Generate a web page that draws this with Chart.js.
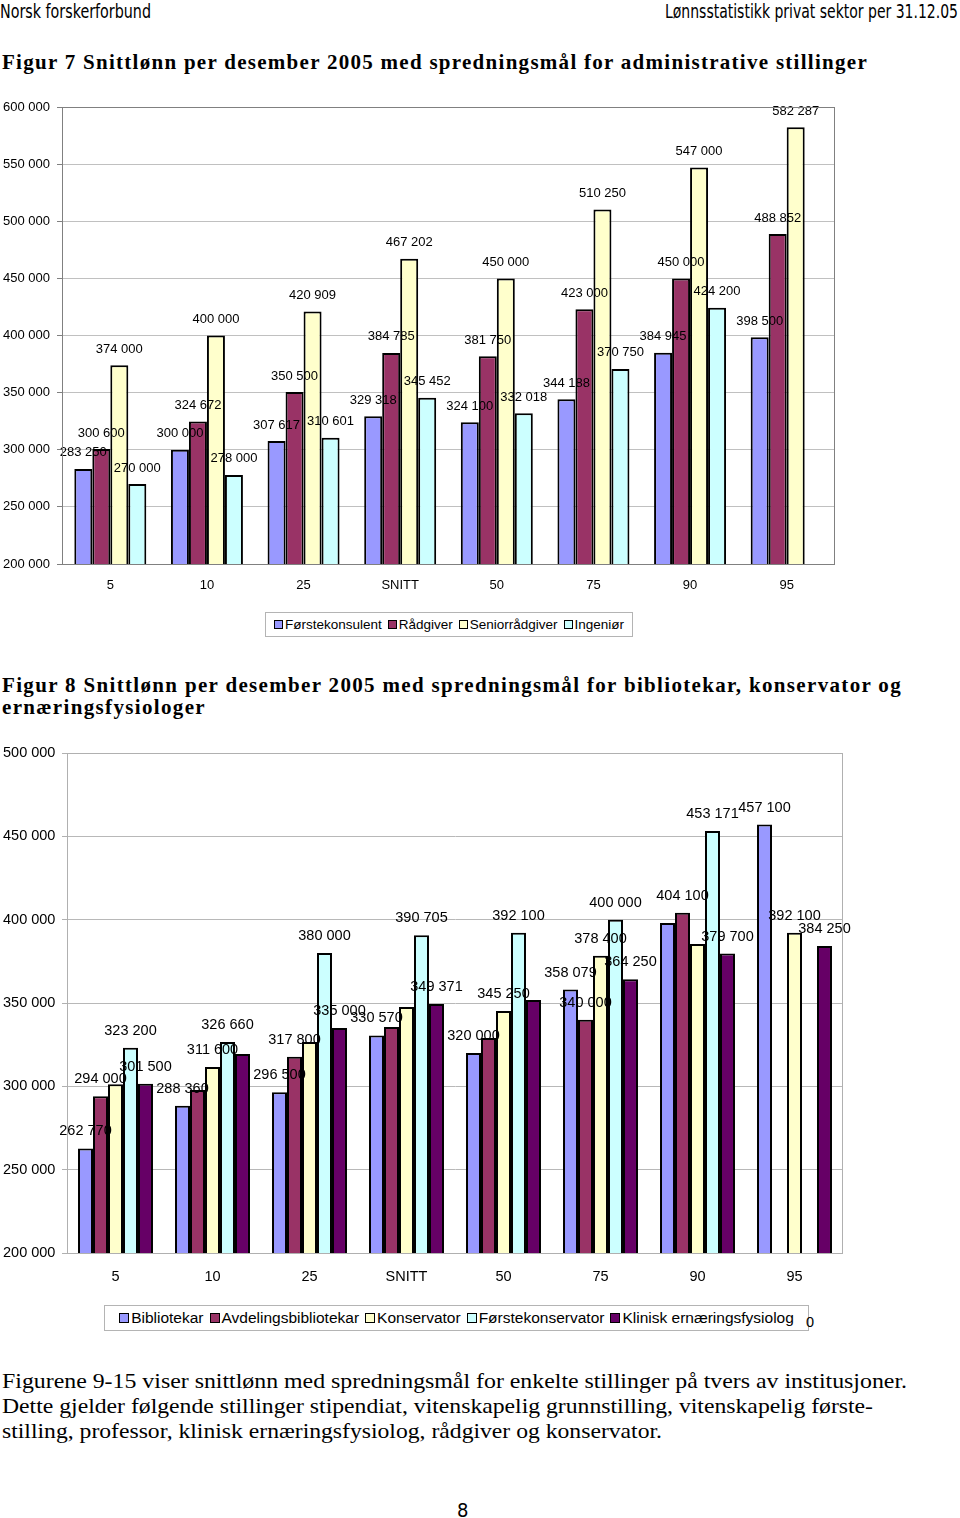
<!DOCTYPE html>
<html><head><meta charset="utf-8">
<script src="https://cdn.jsdelivr.net/npm/chart.js@4/dist/chart.umd.min.js"></script>
<style>
html,body{margin:0;padding:0;background:#fff;}
body{width:960px;height:1518px;position:relative;overflow:hidden;font-family:"Liberation Sans",Arial,sans-serif;color:#000;}
.abs{position:absolute;white-space:nowrap;line-height:1;display:block;}
.narrow{font-family:"Liberation Sans Narrow","DejaVu Sans Condensed","Liberation Sans",sans-serif;font-size:20px;}
.title{font-family:"Liberation Serif","DejaVu Serif",serif;font-weight:bold;font-size:21px;}
.body{font-family:"Liberation Serif","DejaVu Serif",serif;font-size:22px;}
canvas{position:absolute;left:0;}
.legend{position:absolute;border:1px solid #b4b4b4;box-sizing:border-box;display:flex;align-items:center;justify-content:center;white-space:nowrap;background:#fff;}
.legend .item{display:flex;align-items:center;margin:0 3px;}
.legend .mk{display:inline-block;border:1px solid #000;box-sizing:border-box;margin-right:2px;}
</style></head>
<body>
<span class="abs narrow" id="h1" style="left:0;top:1px;">Norsk forskerforbund</span>
<span class="abs narrow" id="h2" style="left:665px;top:1px;">Lønnsstatistikk privat sektor per 31.12.05</span>
<span class="abs title" id="t7" style="left:2px;top:52px;">Figur 7 Snittlønn per desember 2005 med spredningsmål for administrative stillinger</span>
<canvas id="c1" width="850" height="505" style="top:95px;"></canvas>
<div class="legend" id="lg1" style="left:265px;top:612px;width:368px;height:25px;font-size:13.5px;"></div>
<span class="abs title" id="t8a" style="left:2px;top:675px;">Figur 8 Snittlønn per desember 2005 med spredningsmål for bibliotekar, konservator og</span>
<span class="abs title" id="t8b" style="left:2px;top:697px;">ernæringsfysiologer</span>
<canvas id="c2" width="860" height="560" style="top:740px;"></canvas>
<div class="legend" id="lg2" style="left:104px;top:1305px;width:705px;height:26px;font-size:15.5px;"></div>
<span class="abs" style="left:806px;top:1315px;font-size:14.5px;">0</span>
<span class="abs body" id="b1" style="left:2px;top:1370px;">Figurene 9-15 viser snittlønn med spredningsmål for enkelte stillinger på tvers av institusjoner.</span>
<span class="abs body" id="b2" style="left:2px;top:1395px;">Dette gjelder følgende stillinger stipendiat, vitenskapelig grunnstilling, vitenskapelig første-</span>
<span class="abs body" id="b3" style="left:2px;top:1420px;">stilling, professor, klinisk ernæringsfysiolog, rådgiver og konservator.</span>
<span class="abs narrow" id="pg" style="left:457px;top:1500px;">8</span>
<script>
// ---------- DATA ----------
const categories = ['5', '10', '25', 'SNITT', '50', '75', '90', '95'];

// Figur 7
const seriesNames1 = ['Førstekonsulent', 'Rådgiver', 'Seniorrådgiver', 'Ingeniør'];
const forstekonsulent = [283250, 300000, 307617, 329318, 324100, 344188, 384945, 398500];
const radgiver        = [300600, 324672, 350500, 384785, 381750, 423000, 450000, 488852];
const seniorradgiver  = [374000, 400000, 420909, 467202, 450000, 510250, 547000, 582287];
const ingenior        = [270000, 278000, 310601, 345452, 332018, 370750, 424200, null];
const yTicks1 = {min: 200000, max: 600000, step: 50000};

// Figur 8
const seriesNames2 = ['Bibliotekar', 'Avdelingsbibliotekar', 'Konservator', 'Førstekonservator', 'Klinisk ernæringsfysiolog'];
const bibliotekar          = [262770, 288360, 296500, 330570, 320000, 358079, 398000, 457100];
const avdelingsbibliotekar = [294000, 297800, 317800, 335600, 329000, 340000, 404100, null];
const konservator          = [301200, 311600, 326600, 347600, 345250, 378400, 385400, 392100];
const forstekonservator    = [323200, 326660, 380000, 390705, 392100, 400000, 453171, null];
const kliniskErnaering     = [301500, 319400, 335000, 349371, 351800, 364250, 379700, 384250];
const yTicks2 = {min: 200000, max: 500000, step: 50000};
// bars whose value label is not shown in the original: [series, category]
const unlabelled2 = [[2,0],[1,1],[4,1],[2,2],[1,3],[2,3],[1,4],[4,4],[0,6],[2,6]];

// ---------- STYLE ----------
const colors1 = ['#9999FF', '#993366', '#FFFFCC', '#CCFFFF'];
const colors2 = ['#9999FF', '#993366', '#FFFFCC', '#CCFFFF', '#660066'];

function fmt(v){ return String(v).replace(/\B(?=(\d{3})+(?!\d))/g, ' '); }

const valueLabels = {
  id: 'valueLabels',
  afterDatasetsDraw(chart, args, opts) {
    const ctx = chart.ctx;
    ctx.save();
    ctx.font = opts.font;
    ctx.fillStyle = '#000';
    ctx.textAlign = 'center';
    ctx.textBaseline = 'middle';
    chart.data.datasets.forEach((ds, di) => {
      const meta = chart.getDatasetMeta(di);
      meta.data.forEach((el, i) => {
        const v = ds.data[i];
        if (v == null) return;
        if ((opts.hidden || []).some(h => h[0] === di && h[1] === i)) return;
        ctx.fillText(fmt(v), el.x, el.y - opts.offset);
      });
    });
    ctx.restore();
  }
};
const plotFrame = {
  id: 'plotFrame',
  afterDatasetsDraw(chart, args, opts) {
    const a = chart.chartArea, ctx = chart.ctx;
    ctx.save();
    ctx.strokeStyle = opts.color;
    ctx.lineWidth = 1;
    ctx.strokeRect(Math.round(a.left) + 0.5, Math.round(a.top) + 0.5, Math.round(a.width) - 1, Math.round(a.height));
    ctx.restore();
  }
};

function makeChart(id, names, series, colors, yt, cfg) {
  return new Chart(document.getElementById(id), {
    type: 'bar',
    data: {
      labels: categories,
      datasets: series.map((d, i) => ({
        label: names[i], data: d, backgroundColor: colors[i],
        borderColor: '#000', borderWidth: cfg.bw,
        categoryPercentage: cfg.cat, barPercentage: 1
      }))
    },
    options: {
      responsive: false, animation: false, maintainAspectRatio: false,
      layout: {padding: cfg.pad},
      plugins: {
        legend: {display: false}, tooltip: {enabled: false},
        valueLabels: {font: cfg.font + 'px "Liberation Sans", Arial, sans-serif', offset: cfg.off, hidden: cfg.hidden},
        plotFrame: {color: cfg.frame}
      },
      scales: {
        x: {
          grid: {display: false},
          border: {display: false},
          ticks: {color: '#000', font: {size: cfg.font, family: '"Liberation Sans", Arial, sans-serif'}, padding: cfg.xpad, maxRotation: 0, autoSkip: false},
          afterFit(s) { s.height = cfg.xh; }
        },
        y: {
          min: yt.min, max: yt.max,
          grid: {color: cfg.grid, tickLength: 5, tickColor: cfg.frame, drawTicks: true},
          border: {color: cfg.frame},
          ticks: {stepSize: yt.step, color: '#000', crossAlign: 'far', padding: 2,
                  font: {size: cfg.font, family: '"Liberation Sans", Arial, sans-serif'},
                  callback: v => fmt(v)},
          afterFit(s) { s.width = cfg.yw; }
        }
      }
    },
    plugins: [valueLabels, plotFrame]
  });
}

makeChart('c1', seriesNames1, [forstekonsulent, radgiver, seniorradgiver, ingenior], colors1, yTicks1,
  {bw: 2, cat: 0.745, pad: {left: 3, top: 12, right: 15, bottom: 0}, font: 13, off: 16,
   hidden: [], frame: '#808080', grid: '#c0c0c0', xpad: 6, xh: 36, yw: 59});

makeChart('c2', seriesNames2, [bibliotekar, avdelingsbibliotekar, konservator, forstekonservator, kliniskErnaering], colors2, yTicks2,
  {bw: 2, cat: 0.773, pad: {left: 3, top: 13, right: 17, bottom: 0}, font: 14.5, off: 17,
   hidden: unlabelled2, frame: '#b0b0b0', grid: '#b8b8b8', xpad: 7, xh: 47, yw: 64});

function buildLegend(id, names, colors, mk) {
  const lg = document.getElementById(id);
  names.forEach((n, i) => {
    const it = document.createElement('span'); it.className = 'item';
    const m = document.createElement('span'); m.className = 'mk';
    m.style.width = mk + 'px'; m.style.height = mk + 'px'; m.style.background = colors[i];
    it.appendChild(m); it.appendChild(document.createTextNode(n));
    lg.appendChild(it);
  });
}
buildLegend('lg1', seriesNames1, colors1, 9);
buildLegend('lg2', seriesNames2, colors2, 10);

// fit texts to the widths of the original page
function fitScale(id, w) {
  const el = document.getElementById(id);
  const nat = el.getBoundingClientRect().width;
  el.style.transformOrigin = 'left top';
  el.style.transform = 'scaleX(' + (w / nat) + ')';
}
function fitSpacing(id, w) {
  const el = document.getElementById(id);
  const nat = el.getBoundingClientRect().width;
  const n = el.textContent.length;
  el.style.letterSpacing = ((w - nat) / n) + 'px';
}
fitScale('h1', 151);
fitScale('h2', 293);
fitSpacing('t7', 866);
fitSpacing('t8a', 900);
fitSpacing('t8b', 204);
fitScale('b1', 905);
fitScale('b2', 871);
fitScale('b3', 660);
</script>
</body></html>
